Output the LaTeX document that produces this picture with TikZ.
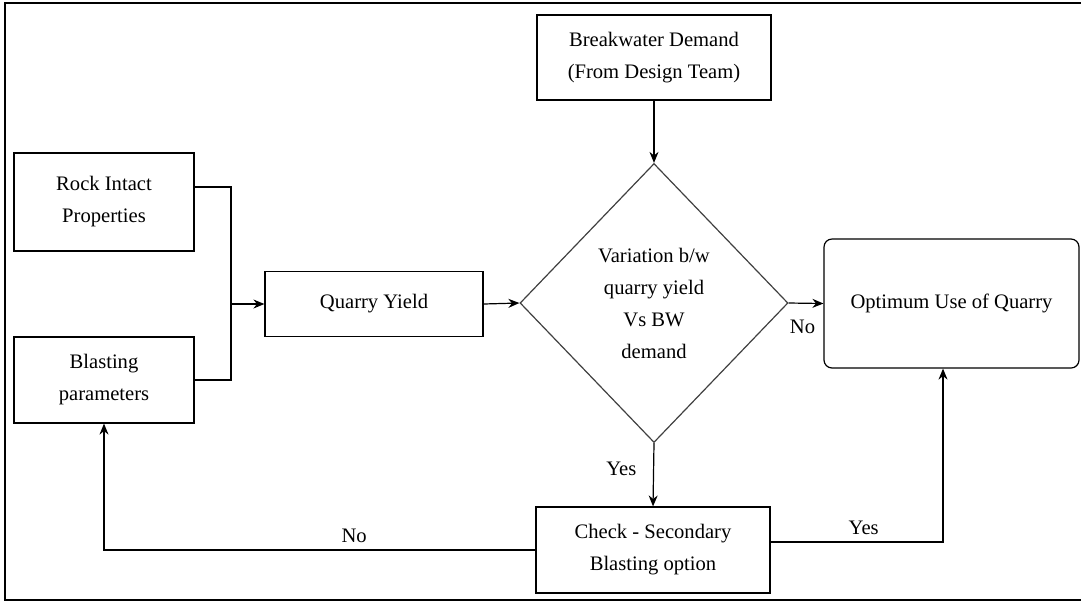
\documentclass[tikz,border=0pt]{standalone}
\usepackage{fontspec}
\setmainfont{Liberation Serif}
\usetikzlibrary{arrows.meta}
\usetikzlibrary{shapes.geometric}
\usetikzlibrary{positioning}

\tikzset{
  block/.style={draw,rectangle,line width=0.6pt,align=center,inner sep=0pt},
  decision/.style={draw=black!75,diamond,line width=0.6pt,align=center,inner sep=0pt},
  outcome/.style={draw,rectangle,rounded corners=4pt,line width=0.6pt,align=center},
  flow/.style={draw,line width=0.6pt,-{Stealth[length=5.5pt,width=4.5pt]}},
  link/.style={draw,line width=0.6pt},
}

\begin{document}
\begin{tikzpicture}[x=0.5pt,y=-0.5pt,font=\fontsize{10.3}{16}\selectfont]

  \useasboundingbox (0,0) rectangle (1081,602);
  \draw [line width=1.3pt] (1090,3) -- (5,3) -- (5,600) -- (1090,600);

  % inputs on the left
  \node [block,minimum width=90pt,minimum height=49pt] (rock) at (104,202) {Rock Intact\\Properties};
  \node [block,minimum width=90pt,minimum height=43pt] (blast) at (104,380) {Blasting\\parameters};
  \node [block,minimum width=109pt,minimum height=32.5pt] (yield) at (374,304) {Quarry Yield};

  % demand and decision
  \node [block,minimum width=117pt,minimum height=42.5pt] (demand) at (654,57.5) {Breakwater Demand\\(From Design Team)};
  \node [decision,minimum width=134pt,minimum height=139.5pt] (vary) at (654,303) {Variation b/w\\quarry yield\\Vs BW\\demand};
  \node [outcome,minimum width=127.5pt,minimum height=64.5pt] (optimum) at (951.5,303.5) {Optimum Use of Quarry};
  \node [block,minimum width=117pt,minimum height=43pt] (check) at (653,550) {Check - Secondary\\Blasting option};

  \coordinate (join) at (231,304);

  \path [link] ([yshift=7.5pt]rock.east) -| (join) |- (blast.east);
  \path [flow] (join) -- (yield.west);
  \path [flow] (yield.east) -- (vary.west);
  \path [flow] (demand.south) -- (vary.north);

  \path [flow] (vary.east) -- node [pos=0.4,below,yshift=-5pt] {No} (optimum.west);
  \path [flow] (vary.south) -- node [pos=0.4,left,xshift=-5pt] {Yes} (check.north);
  \path [flow] (check.west) -| node [pos=0.21,above] {No} (blast.south);
  \path [flow] ([yshift=4pt]check.east) -| node [pos=0.27,above] {Yes} ([xshift=-4.25pt]optimum.south);

\end{tikzpicture}
\end{document}
